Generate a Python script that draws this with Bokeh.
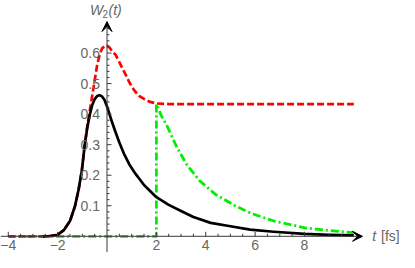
from bokeh.plotting import figure
from bokeh.models import Arrow, VeeHead
from bokeh.core.properties import value
from bokeh.embed import file_html
from bokeh.resources import INLINE

# ---- data ----
t_black = [-2.6, -2.3, -2.0, -1.75, -1.5, -1.3, -1.15, -1.02, -0.9, -0.8, -0.7, -0.6,
           -0.5, -0.4, -0.3, -0.2, -0.1, 0.0, 0.1, 0.22, 0.35, 0.5, 0.7, 0.9, 1.15,
           1.5, 2.0, 2.5, 3.0, 3.5, 4.2, 5.0, 5.8, 6.75, 8.0, 9.0, 10.0]
w_black = [0.0, 0.001, 0.005, 0.02, 0.05, 0.098, 0.153, 0.215, 0.30, 0.355, 0.397, 0.43,
           0.449, 0.459, 0.462, 0.458, 0.446, 0.425, 0.40, 0.37, 0.34, 0.307, 0.268, 0.236, 0.205,
           0.168, 0.128, 0.103, 0.083, 0.063, 0.044, 0.033, 0.022, 0.015, 0.008, 0.005, 0.003]

t_red = [-4.0, -3.0, -2.6, -2.3, -2.0, -1.75, -1.5, -1.3, -1.15, -1.02, -0.9, -0.8, -0.7,
         -0.6, -0.5, -0.4, -0.3, -0.2, -0.1, 0.0, 0.1, 0.2, 0.35, 0.5, 0.61, 0.75, 0.87,
         1.0, 1.14, 1.3, 1.53, 1.75, 2.0, 2.5, 10.0]
w_red = [0.0, 0.0, 0.0, 0.001, 0.005, 0.02, 0.05, 0.098, 0.153, 0.215, 0.30, 0.36, 0.41,
         0.46, 0.51, 0.56, 0.595, 0.615, 0.623, 0.624, 0.618, 0.607, 0.594, 0.57, 0.552, 0.53, 0.51,
         0.49, 0.474, 0.46, 0.448, 0.44, 0.435, 0.433, 0.433]

t_green = [-4.0, 2.0, 2.0, 2.2, 2.44, 2.84, 3.23, 3.75, 4.4, 5.19, 5.84, 6.76, 8.07, 9.0, 10.0]
w_green = [0.0, 0.0, 0.433, 0.395, 0.36, 0.29, 0.235, 0.182, 0.137, 0.10, 0.075, 0.05, 0.027, 0.019, 0.012]

x_major = [-4, -2, 2, 4, 6, 8]
x_labels = ["\u22124", "\u22122", "2", "4", "6", "8"]
x_minor = [v / 2 for v in range(-8, 21) if v % 4 != 0]
y_major = [0.1, 0.2, 0.3, 0.4, 0.5, 0.6]
y_labels = ["0.1", "0.2", "0.3", "0.4", "0.5", "0.6"]
y_minor = [v / 100 for v in range(2, 70, 2) if v % 10 != 0]

x_label_text = "t"
x_unit_text = "[fs]"

# ---- figure ----
W, H = 399, 252
p = figure(width=W, height=H, x_range=(-4.315, 11.85), y_range=(-0.053, 0.772),
           x_axis_type=None, y_axis_type=None, output_backend="svg",
           toolbar_location=None, min_border=0)
p.outline_line_color = None
p.grid.visible = False
p.background_fill_color = "white"

px_x = 24.68   # pixels per x unit
px_y = 305.4   # pixels per y unit

p.line(t_green, w_green, line_color="#00ee00", line_width=2.8, line_dash="8 3 2 3",
       line_join="round")
p.line(t_red, w_red, line_color="#ff0000", line_width=2.7, line_dash="7 3",
       line_join="round")
p.line(t_black, w_black, line_color="black", line_width=2.7, line_join="round")

axis_col = "#3a3a3a"
# axes lines with arrow heads
p.add_layout(Arrow(end=VeeHead(size=10, fill_color="black", line_color="black"),
                   x_start=-4.315, y_start=0, x_end=10.35, y_end=0,
                   line_color=axis_col, line_width=1))
p.add_layout(Arrow(end=VeeHead(size=10, fill_color="black", line_color="black"),
                   x_start=0, y_start=-0.053, x_end=0, y_end=0.703,
                   line_color=axis_col, line_width=1))

# ticks (pointing into the plot)
p.segment(x0=x_major, y0=[0] * len(x_major), x1=x_major, y1=[4.5 / px_y] * len(x_major),
          line_color=axis_col, line_width=1)
p.segment(x0=x_minor, y0=[0] * len(x_minor), x1=x_minor, y1=[2.5 / px_y] * len(x_minor),
          line_color=axis_col, line_width=1)
p.segment(x0=[0] * len(y_major), y0=y_major, x1=[4.5 / px_x] * len(y_major), y1=y_major,
          line_color=axis_col, line_width=1)
p.segment(x0=[0] * len(y_minor), y0=y_minor, x1=[2.5 / px_x] * len(y_minor), y1=y_minor,
          line_color=axis_col, line_width=1)

lab_col = "#666666"
font = value("Liberation Sans")
p.text(x=x_major, y=[0] * len(x_major), text=x_labels, text_align="center",
       text_baseline="top", y_offset=4, text_font=font, text_font_size="14px",
       text_color=lab_col)
p.text(x=[0] * len(y_major), y=y_major, text=y_labels, text_align="right",
       text_baseline="middle", x_offset=-7, text_font=font, text_font_size="14px",
       text_color=lab_col)

# axis titles
p.text(x=[10.75], y=[0], text=[x_label_text], text_align="left", text_baseline="middle",
       text_font=font, text_font_size="14px", text_font_style="italic", text_color=lab_col)
p.text(x=[11.1], y=[0], text=[x_unit_text], text_align="left", text_baseline="middle",
       text_font=font, text_font_size="14px", text_color=lab_col)

ty = 0.741
p.text(x=[0], y=[ty], text=["W"], text_align="left", text_baseline="middle",
       x_offset=-17, text_font=font, text_font_size="14px", text_font_style="italic",
       text_color=lab_col)
p.text(x=[0], y=[ty], text=["2"], text_align="left", text_baseline="middle",
       x_offset=-4.5, y_offset=4, text_font=font, text_font_size="10px",
       text_color=lab_col)
p.text(x=[0], y=[ty], text=["(t)"], text_align="left", text_baseline="middle",
       x_offset=1.5, text_font=font, text_font_size="14px", text_font_style="italic",
       text_color=lab_col)

open("out.html", "w").write(file_html(p, INLINE))
